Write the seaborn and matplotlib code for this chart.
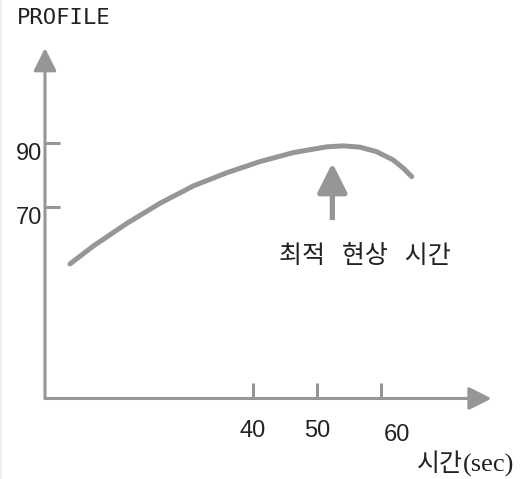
import matplotlib
matplotlib.use("Agg")
import matplotlib.pyplot as plt
import seaborn as sns

# Development profile curve (time in sec, profile value)
time_sec = [11.4, 15.05, 20.3, 25.5, 30.7, 35.9, 41.1, 46.3, 51.5, 54.1, 56.7, 59.3, 61.9, 63.5, 64.8]
profile = [52.2, 57.8, 64.9, 71.2, 76.6, 80.7, 84.2, 87.0, 88.8, 89.1, 88.7, 87.3, 84.7, 82.1, 79.5]

x_ticks = [40, 50, 60]
y_ticks = [70, 90]
x_tick_labels = ["40", "50", "60"]
y_tick_labels = ["70", "90"]

optimum_time = 52.4
optimum_label = "최적   현상   시간"
y_title = "PROFILE"
x_title_kr = "시간"
x_title_unit = "(sec)"

GRAY = "#969696"
TEXT = "#222222"
W, H = 522, 479
PT = 0.72  # points per pixel at 100 dpi

sns.set_style("white")
plt.rcParams["font.family"] = ["Noto Sans CJK KR", "DejaVu Sans"]

fig = plt.figure(figsize=(W / 100, H / 100), dpi=100)
ax = fig.add_axes([0, 0, 1, 1])
ax.set_facecolor("white")

# axis frame: origin and arrow tips
x0, y0 = 7.5, 10.16
x_end, y_end = 77.3, 119.7

sns.lineplot(x=time_sec, y=profile, color=GRAY, linewidth=3.6, ax=ax,
             solid_capstyle="round", solid_joinstyle="round")

ax.set_xlim(0.46875, 82.03125)
ax.set_ylim(-15.0, 134.6875)
ax.set_xlabel("")
ax.set_ylabel("")

# axes drawn as arrows
axis_arrow = dict(arrowstyle="-|>,head_length=14,head_width=7", mutation_scale=1,
                  color=GRAY, lw=2.2, shrinkA=0, shrinkB=0, capstyle="butt")
ax.annotate("", xy=(x_end, y0), xytext=(x0 - 0.2, y0), arrowprops=axis_arrow)
ax.annotate("", xy=(x0, y_end), xytext=(x0, y0), arrowprops=axis_arrow)

# arrow marking the optimum time
ax.annotate("", xy=(optimum_time, 83.8), xytext=(optimum_time, 65.9),
            arrowprops=dict(arrowstyle="-|>,head_length=18,head_width=9",
                            mutation_scale=1, color=GRAY, lw=3.8,
                            shrinkA=0, shrinkB=0, capstyle="butt"))

# inward ticks sitting on the arrow axes
for side in ["top", "right", "left", "bottom"]:
    ax.spines[side].set_visible(False)
ax.spines["left"].set_position(("data", x0))
ax.spines["bottom"].set_position(("data", y0))
ax.set_xticks(x_ticks)
ax.set_yticks(y_ticks)
ax.tick_params(axis="both", direction="in", length=10.5, width=2.2, color=GRAY,
               labelbottom=False, labelleft=False, left=True, bottom=True)
ax.grid(False)

num_font = dict(family="Liberation Sans", fontsize=17, color=TEXT)
x_offsets_px = [(0, -33), (0, -33), (16, -36.5)]
for v, lab, (dx, dy) in zip(x_ticks, x_tick_labels, x_offsets_px):
    ax.annotate(lab, xy=(v, y0), xytext=(dx * PT, dy * PT), textcoords="offset points",
                ha="center", va="center", **num_font)
for v, lab in zip(y_ticks, y_tick_labels):
    ax.annotate(lab, xy=(x0, v), xytext=(-3 * PT, -10.5 * PT), textcoords="offset points",
                ha="right", va="center", **num_font)

ax.annotate(optimum_label, xy=(optimum_time, 65.9), xytext=(33 * PT, -36 * PT),
            textcoords="offset points", ha="center", va="center",
            fontsize=18, color=TEXT,
            family=["Noto Sans CJK KR", "DejaVu Sans"])

fig.text(17 / W, 1 - 18 / H, y_title, family="DejaVu Sans Mono", fontsize=16,
         color=TEXT, ha="left", va="center")
fig.text(463 / W, 1 - 464 / H, x_title_kr, family=["Noto Sans CJK KR", "DejaVu Sans"],
         fontsize=18, color=TEXT, ha="right", va="center")
fig.text(463 / W, 1 - 472 / H, x_title_unit, family="Liberation Serif",
         fontsize=19, color=TEXT, ha="left", va="baseline")

# faint left border
fig.add_artist(plt.Line2D([0.8 / W, 0.8 / W], [0, 1], color="#ececec", lw=1.2,
                          transform=fig.transFigure))

fig.savefig("out.png", dpi=100, facecolor="white")
